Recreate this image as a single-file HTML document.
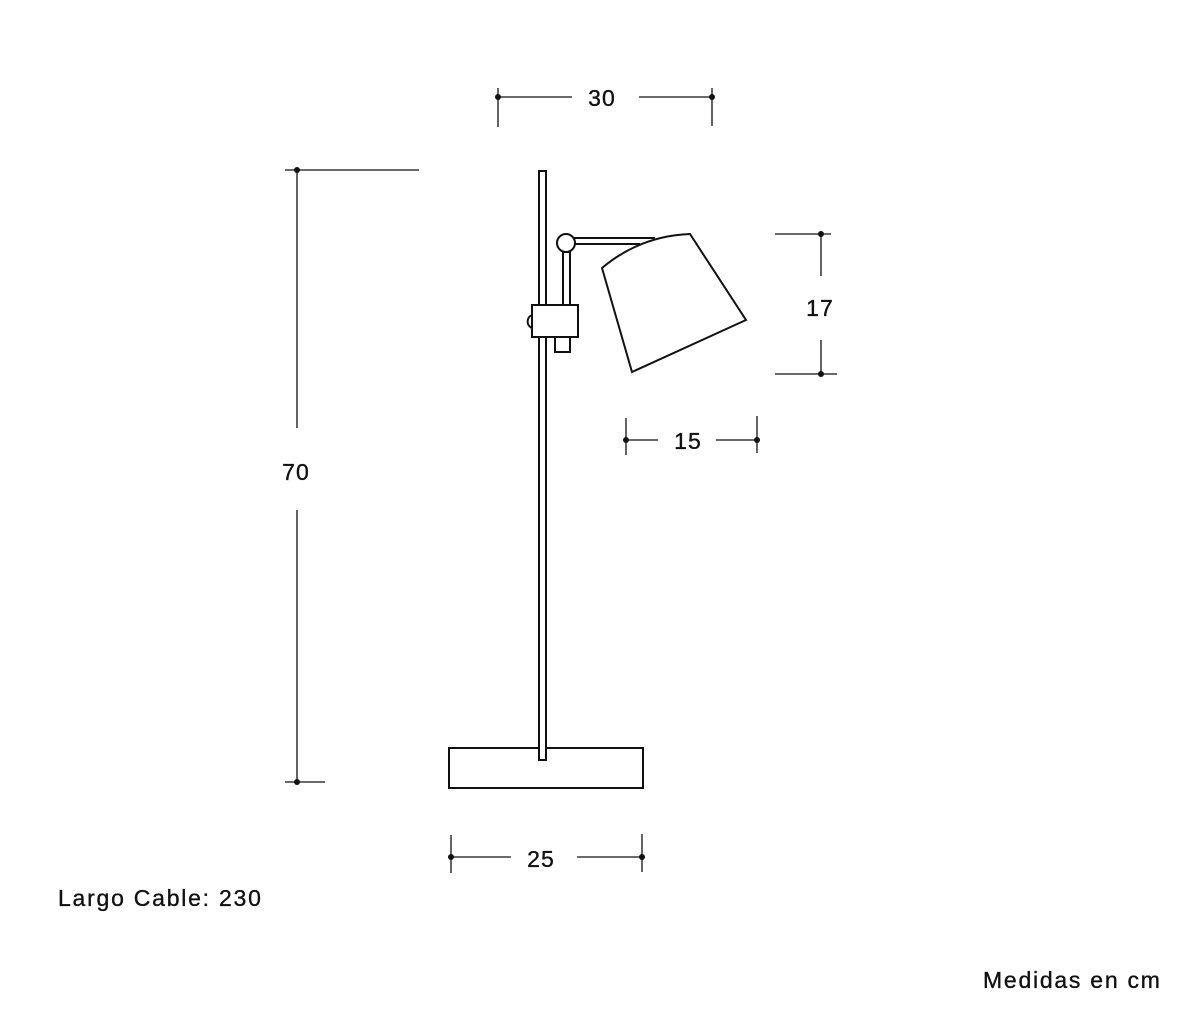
<!DOCTYPE html>
<html><head><style>body{margin:0;background:#fff}svg{display:block}text{font-family:"Liberation Sans",sans-serif;font-size:23px;letter-spacing:1.1px;fill:#111;stroke:#111;stroke-width:0.35}</style></head><body>
<svg width="1200" height="1028" viewBox="0 0 1200 1028">
<g stroke="#111" fill="none" stroke-width="1.3">
<line x1="498" y1="97" x2="572" y2="97"/><line x1="639" y1="97" x2="712" y2="97"/>
<line x1="498" y1="88" x2="498" y2="127"/><line x1="712" y1="88" x2="712" y2="126"/>
<line x1="285" y1="170" x2="419" y2="170"/><line x1="285" y1="782" x2="325" y2="782"/>
<line x1="297" y1="170" x2="297" y2="428"/><line x1="297" y1="510" x2="297" y2="782"/>
<line x1="775" y1="234" x2="831" y2="234"/><line x1="775" y1="374" x2="837" y2="374"/>
<line x1="821" y1="234" x2="821" y2="276"/><line x1="821" y1="340" x2="821" y2="374"/>
<line x1="626" y1="440" x2="658" y2="440"/><line x1="716" y1="440" x2="757" y2="440"/>
<line x1="626" y1="418" x2="626" y2="455"/><line x1="757" y1="416" x2="757" y2="453"/>
<line x1="451" y1="857" x2="511" y2="857"/><line x1="577" y1="857" x2="642" y2="857"/>
<line x1="451" y1="835" x2="451" y2="873"/><line x1="642" y1="834" x2="642" y2="872"/>
</g>
<g fill="#111">
<circle cx="498" cy="97" r="3"/><circle cx="712" cy="97" r="3"/>
<circle cx="297" cy="170" r="3"/><circle cx="297" cy="782" r="3"/>
<circle cx="821" cy="234" r="3"/><circle cx="821" cy="374" r="3"/>
<circle cx="626" cy="440" r="3"/><circle cx="757" cy="440" r="3"/>
<circle cx="451" cy="857" r="3"/><circle cx="642" cy="857" r="3"/>
</g>
<g stroke="#111" fill="#fff" stroke-width="2">
<rect x="449" y="748" width="194" height="40"/>
<rect x="539" y="171" width="7" height="589"/>
<line x1="574" y1="238" x2="655" y2="238"/><line x1="574" y1="244" x2="640" y2="244"/>
<rect x="563" y="252" width="7" height="54"/>
<path d="M532 315 A7 7 0 0 0 532 328"/>
<rect x="532" y="305" width="46" height="32"/>
<rect x="555" y="337" width="15" height="15"/>
<circle cx="566" cy="243" r="9"/>
<path d="M602 268 Q640 236 690 234 L746 320 L632 372 Z"/>
</g>
<text x="602" y="106" text-anchor="middle">30</text>
<text x="296" y="480" text-anchor="middle">70</text>
<text x="820" y="316" text-anchor="middle">17</text>
<text x="688" y="449" text-anchor="middle">15</text>
<text x="541" y="867" text-anchor="middle">25</text>
<text x="58" y="906" textLength="204" lengthAdjust="spacing">Largo Cable: 230</text>
<text x="983" y="988" textLength="178" lengthAdjust="spacing">Medidas en cm</text>
</svg>
</body></html>
